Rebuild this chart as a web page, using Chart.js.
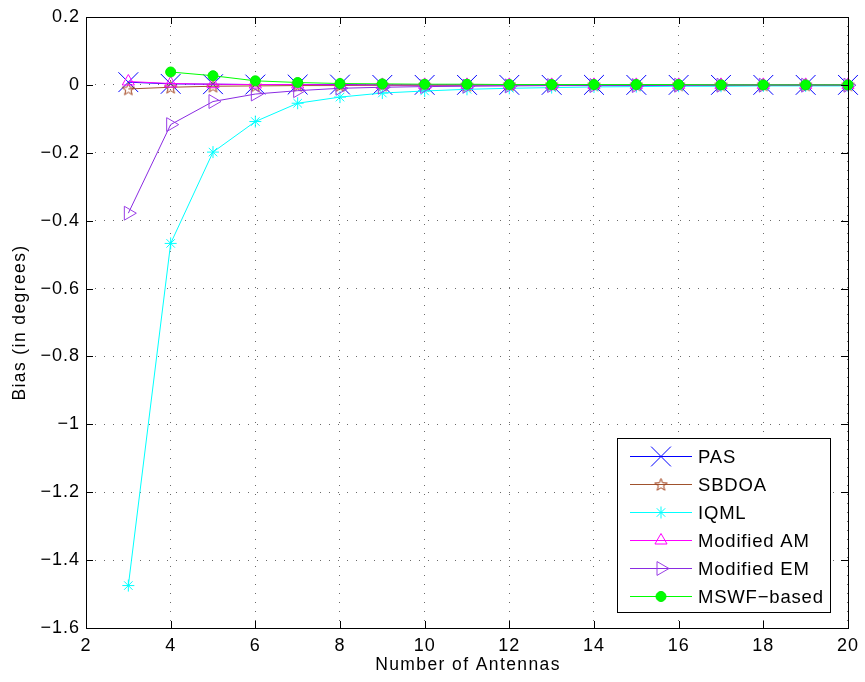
<!DOCTYPE html>
<html>
<head>
<meta charset="utf-8">
<script src="https://cdn.jsdelivr.net/npm/chart.js@4.4.1/dist/chart.umd.min.js"></script>
<style>
  html, body { margin: 0; padding: 0; background: #ffffff; }
  #wrap { width: 865px; height: 682px; }
</style>
</head>
<body>
<div id="wrap"><canvas id="c" width="865" height="682"></canvas></div>
<script>
// Number of antennas on the x axis
const antennas = [3, 4, 5, 6, 7, 8, 9, 10, 11, 12, 13, 14, 15, 16, 17, 18, 19, 20];

// Bias (degrees) of each estimator
const biasPAS      = [0.008, 0.003, 0.002, 0.001, 0.001, 0.001, 0, 0, 0, 0, 0, 0, 0, 0, 0, 0, 0, 0];
const biasSBDOA    = [-0.012, -0.007, -0.004, -0.003, -0.002, -0.002, -0.001, -0.001, -0.001, 0, 0, 0, 0, 0, 0, 0, 0, 0];
const biasIQML     = [-1.475, -0.467, -0.198, -0.108, -0.054, -0.036, -0.024, -0.018, -0.013, -0.010, -0.008, -0.006, -0.005, -0.004, -0.004, -0.003, -0.003, -0.003];
const biasModAM    = [0.010, 0.004, 0.002, 0.001, 0.001, 0, 0, 0, 0, 0, 0, 0, 0, 0, 0, 0, 0, 0];
const biasModEM    = [-0.378, -0.117, -0.049, -0.027, -0.017, -0.010, -0.007, -0.005, -0.004, -0.003, -0.002, -0.002, -0.002, -0.001, -0.001, -0.001, -0.001, -0.001];
const biasMSWF     = [null, 0.038, 0.027, 0.012, 0.007, 0.004, 0.003, 0.002, 0.002, 0.001, 0.001, 0.001, 0.001, 0.001, 0, 0, 0, 0];

const seriesNames = ['PAS', 'SBDOA', 'IQML', 'Modified AM', 'Modified EM', 'MSWF\u2212based'];

// Axis ticks and titles
const xTicks = [2, 4, 6, 8, 10, 12, 14, 16, 18, 20];
const yTicks = [0.2, 0, -0.2, -0.4, -0.6, -0.8, -1, -1.2, -1.4, -1.6];
const xTitle = 'Number of Antennas';
const yTitle = 'Bias (in degrees)';

const FONT = '"Liberation Sans", Arial, Helvetica, sans-serif';

// Outlined five-pointed star used as a marker
function pentagram(size, color) {
  const cv = document.createElement('canvas');
  cv.width = cv.height = size;
  const g = cv.getContext('2d');
  const c = size / 2, R = size / 2 - 1, r = R * 0.42;
  g.beginPath();
  for (let i = 0; i < 10; i++) {
    const a = -Math.PI / 2 + i * Math.PI / 5;
    const rr = i % 2 ? r : R;
    g.lineTo(c + rr * Math.cos(a), c + 0.5 + rr * Math.sin(a));
  }
  g.closePath();
  g.strokeStyle = color;
  g.lineWidth = 1;
  g.stroke();
  return cv;
}

function pts(values) {
  return antennas.map((n, i) => ({ x: n, y: values[i] }));
}

const seriesStyle = [
  { data: biasPAS,   line: '#0000ff', mark: '#0000ff', pointStyle: 'crossRot', radius: 14, rotation: 0, fill: 'rgba(0,0,0,0)' },
  { data: biasSBDOA, line: '#a0522d', mark: '#a0401a', pointStyle: pentagram(15, '#a0401a'), radius: 7, rotation: 0, fill: 'rgba(0,0,0,0)' },
  { data: biasIQML,  line: '#00ffff', mark: '#00ffff', pointStyle: 'star', radius: 6, rotation: 0, fill: 'rgba(0,0,0,0)' },
  { data: biasModAM, line: '#ff00ff', mark: '#ff00ff', pointStyle: 'triangle', radius: 7, rotation: 0, fill: 'rgba(0,0,0,0)' },
  { data: biasModEM, line: '#8a2be2', mark: '#9a3ee6', pointStyle: 'triangle', radius: 8, rotation: 90, fill: 'rgba(0,0,0,0)' },
  { data: biasMSWF,  line: '#00ff00', mark: '#00ee00', pointStyle: 'circle', radius: 5, rotation: 0, fill: '#00ff00' }
];

const datasets = seriesStyle.map((s, i) => ({
  label: seriesNames[i],
  data: pts(s.data),
  borderColor: s.line,
  borderWidth: 1,
  pointStyle: s.pointStyle,
  pointRadius: s.radius,
  pointHoverRadius: s.radius,
  pointRotation: s.rotation,
  pointBorderColor: s.mark,
  pointBackgroundColor: s.fill,
  pointBorderWidth: 1,
  tension: 0,
  spanGaps: false,
  clip: false,
  order: seriesStyle.length - i
}));

// Frame, inward tick marks, axis titles and the boxed legend
const framePlugin = {
  id: 'frame',
  beforeDraw(chart) {
    chart.ctx.letterSpacing = '1px';
  },
  afterDraw(chart) {
    const ctx = chart.ctx;
    const a = chart.chartArea;
    const xs = chart.scales.x, ys = chart.scales.y;
    const tl = 7;
    ctx.save();
    ctx.strokeStyle = '#000000';
    ctx.lineWidth = 1;
    ctx.setLineDash([]);
    ctx.beginPath();
    xTicks.forEach(v => {
      const px = Math.round(xs.getPixelForValue(v)) + 0.5;
      ctx.moveTo(px, a.bottom); ctx.lineTo(px, a.bottom - tl);
      ctx.moveTo(px, a.top); ctx.lineTo(px, a.top + tl);
    });
    yTicks.forEach(v => {
      const py = Math.round(ys.getPixelForValue(v)) + 0.5;
      ctx.moveTo(a.left, py); ctx.lineTo(a.left + tl, py);
      ctx.moveTo(a.right, py); ctx.lineTo(a.right - tl, py);
    });
    ctx.stroke();
    ctx.strokeRect(Math.round(a.left) + 0.5, Math.round(a.top) + 0.5,
                   Math.round(a.right - a.left), Math.round(a.bottom - a.top));

    // axis titles
    ctx.fillStyle = '#000000';
    ctx.font = '17.5px ' + FONT;
    ctx.letterSpacing = '1.4px';
    ctx.textAlign = 'center';
    ctx.textBaseline = 'middle';
    ctx.fillText(xTitle, (a.left + a.right) / 2 + 1, 665);
    ctx.save();
    ctx.translate(20, (a.top + a.bottom) / 2);
    ctx.rotate(-Math.PI / 2);
    ctx.fillText(yTitle, 0, 0);
    ctx.restore();

    // legend
    const bx = 617.5, by = 438.5, bw = 213, bh = 174;
    ctx.fillStyle = '#ffffff';
    ctx.fillRect(bx, by, bw, bh);
    ctx.strokeStyle = '#000000';
    ctx.strokeRect(bx, by, bw, bh);
    ctx.font = '18.5px ' + FONT;
    ctx.letterSpacing = '0.8px';
    ctx.textBaseline = 'middle';
    ctx.textAlign = 'left';
    chart.data.datasets.forEach((ds, i) => {
      const y = 456.5 + i * 28;
      ctx.strokeStyle = ds.borderColor;
      ctx.lineWidth = 1;
      ctx.beginPath();
      ctx.moveTo(630, y); ctx.lineTo(692, y);
      ctx.stroke();
      ctx.strokeStyle = ds.pointBorderColor;
      ctx.fillStyle = ds.pointBackgroundColor;
      Chart.helpers.drawPoint(ctx, {
        pointStyle: ds.pointStyle,
        rotation: ds.pointRotation,
        radius: ds.pointRadius,
        borderWidth: 1
      }, 661, y);
      ctx.fillStyle = '#000000';
      ctx.fillText(ds.label, 698, y + 1);
    });
    ctx.restore();
  }
};

const fmt = v => {
  const s = String(Number(Number(v).toFixed(1)));
  return s.replace('-', '\u2212');
};

new Chart(document.getElementById('c'), {
  type: 'line',
  data: { datasets },
  options: {
    responsive: false,
    animation: false,
    devicePixelRatio: 1,
    layout: { padding: { top: 17, right: 16, left: 0, bottom: 0 } },
    plugins: { legend: { display: false }, tooltip: { enabled: false } },
    scales: {
      x: {
        type: 'linear',
        min: 2, max: 20,
        afterFit: s => { s.height = 54; },
        afterBuildTicks: s => { s.ticks = xTicks.map(v => ({ value: v })); },
        ticks: { font: { family: FONT, size: 18 }, color: '#000000', padding: 7, maxRotation: 0, callback: fmt },
        grid: { color: 'rgba(90,90,90,0.9)', lineWidth: 1, drawTicks: false },
        border: { display: false, dash: [1, 8] },
        title: { display: false }
      },
      y: {
        type: 'linear',
        min: -1.6, max: 0.2,
        afterFit: s => { s.width = 86; },
        afterBuildTicks: s => { s.ticks = yTicks.map(v => ({ value: v })); },
        ticks: { font: { family: FONT, size: 18 }, color: '#000000', padding: 6, callback: fmt },
        grid: { color: 'rgba(90,90,90,0.9)', lineWidth: 1, drawTicks: false },
        border: { display: false, dash: [1, 8] },
        title: { display: false }
      }
    }
  },
  plugins: [framePlugin]
});
</script>
</body>
</html>
